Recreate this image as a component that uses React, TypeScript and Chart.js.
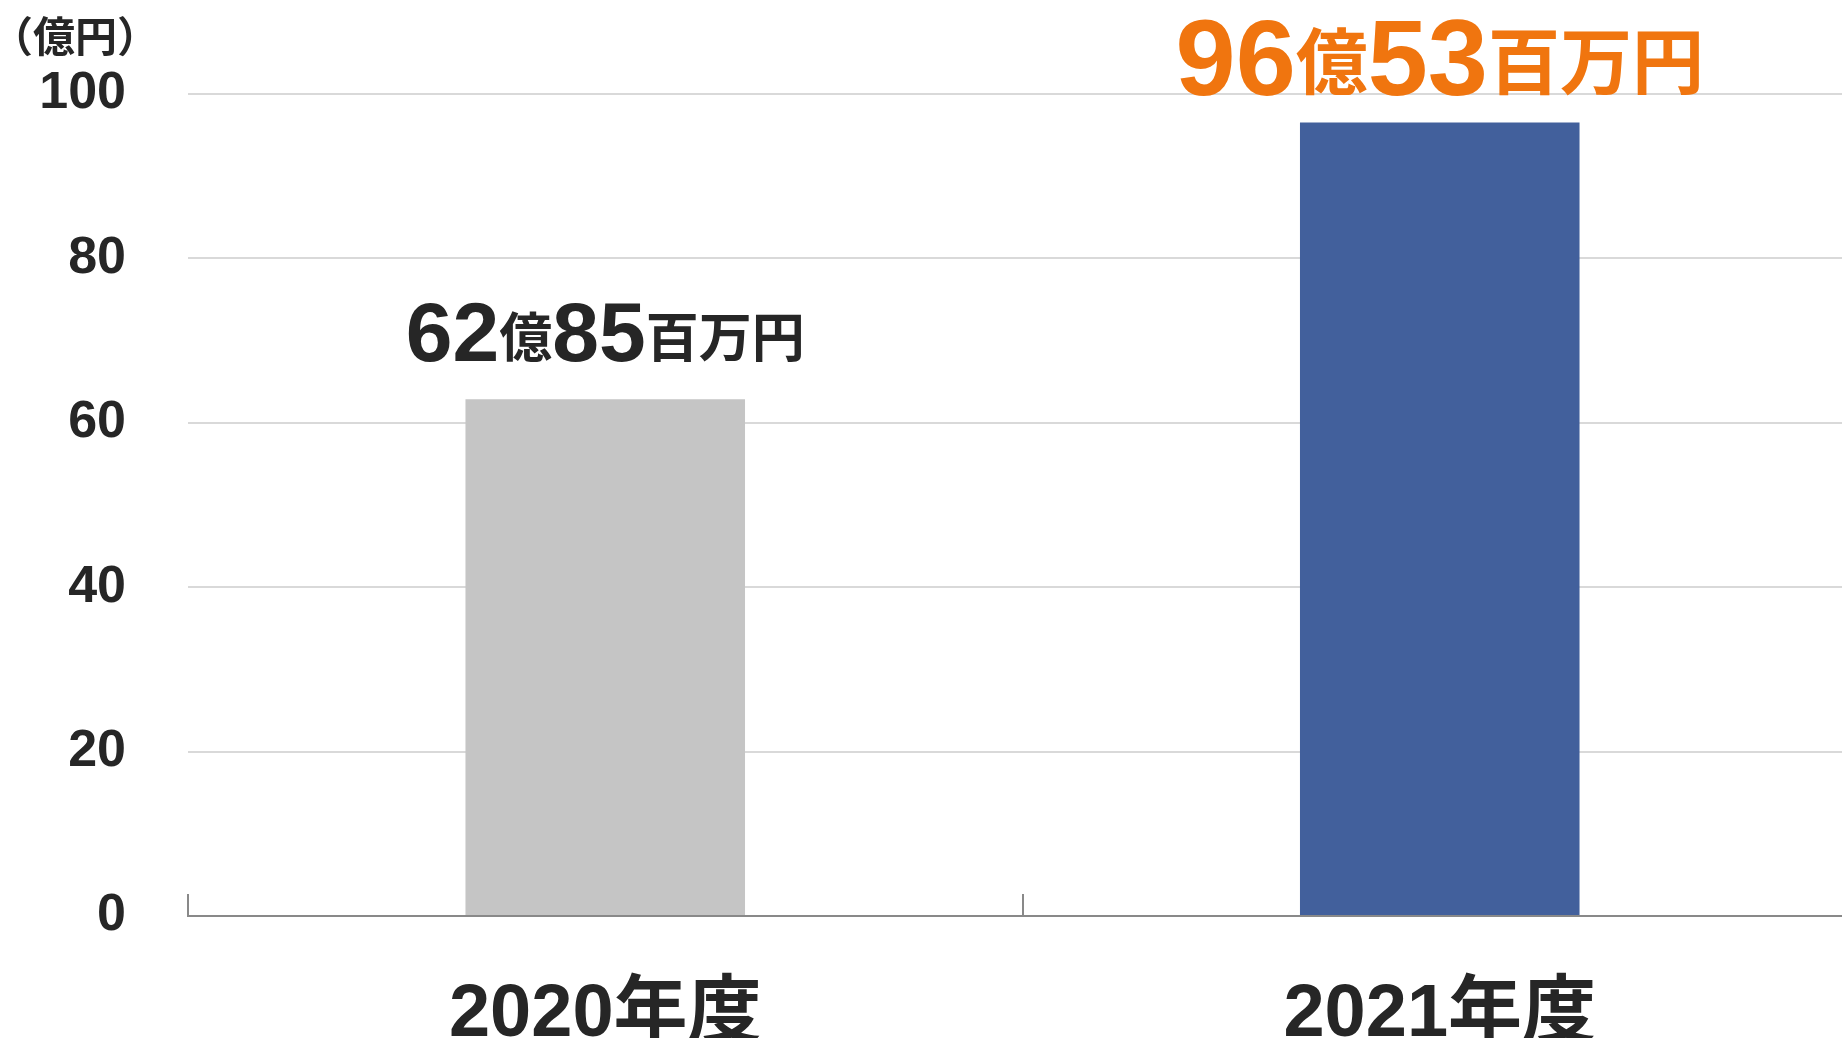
import React, { useEffect, useRef } from "react";
import { Chart, registerables } from "chart.js";

Chart.register(...registerables);

const categories: string[] = ["2020年度", "2021年度"];
const values: number[] = [62.85, 96.53];
const barColors: string[] = ["#c5c5c5", "#42609c"];
const yTicks: number[] = [0, 20, 40, 60, 80, 100];
const unitLabel = "（億円）";
const okuUnit = "億";
const hyakumanUnit = "百万円";

const labelStyles = [
  { digit: 84, kanji: 53, color: "#262626", gap: 37 },
  { digit: 108, kanji: 72, color: "#f0750f", gap: 27 },
];

const TEXT = "#262626";
const LATIN = '"Liberation Sans", Arial, "Noto Sans CJK JP", sans-serif';
const CJK = '"Noto Sans CJK JP", "Liberation Sans", sans-serif';

const W = 1857;
const H = 1038;

const overlay = {
  id: "overlay",
  afterDraw(chart: any) {
    const ctx = chart.ctx as CanvasRenderingContext2D;
    const xs = chart.scales.x;
    const area = chart.chartArea;
    ctx.save();
    // category boundary tick marks pointing up
    const n = categories.length;
    const half = (xs.getPixelForValue(1) - xs.getPixelForValue(0)) / 2;
    ctx.strokeStyle = "#898989";
    ctx.lineWidth = 2;
    for (let i = 0; i <= n; i++) {
      const px = xs.getPixelForValue(Math.min(i, n - 1)) + (i < n ? -half : half);
      ctx.beginPath();
      ctx.moveTo(Math.round(px), area.bottom);
      ctx.lineTo(Math.round(px), area.bottom - 22);
      ctx.stroke();
    }

    // unit label
    ctx.font = `bold 42px ${CJK}`;
    ctx.fillStyle = TEXT;
    ctx.textAlign = "left";
    ctx.textBaseline = "alphabetic";
    const um = ctx.measureText(unitLabel);
    ctx.fillText(unitLabel, 18 + um.actualBoundingBoxLeft, 15 + um.actualBoundingBoxAscent);

    // value labels
    const meta = chart.getDatasetMeta(0);
    meta.data.forEach((bar: any, i: number) => {
      const st = labelStyles[i];
      const [oku, man] = values[i].toFixed(2).split(".");
      const segs = [
        { t: oku, f: `bold ${st.digit}px ${LATIN}` },
        { t: okuUnit, f: `bold ${st.kanji}px ${CJK}` },
        { t: man, f: `bold ${st.digit}px ${LATIN}` },
        { t: hyakumanUnit, f: `bold ${st.kanji}px ${CJK}` },
      ];
      let total = 0;
      const ms = segs.map((s) => {
        ctx.font = s.f;
        const m = ctx.measureText(s.t);
        total += m.width;
        return m;
      });
      let x = bar.x - total / 2;
      const baseY = bar.y - st.gap;
      ctx.fillStyle = st.color;
      ctx.textAlign = "left";
      ctx.textBaseline = "alphabetic";
      segs.forEach((s, k) => {
        ctx.font = s.f;
        const d = Math.max(0, ms[k].actualBoundingBoxDescent);
        ctx.fillText(s.t, x, baseY - d);
        x += ms[k].width;
      });
    });
    ctx.restore();
  },
};

export default function App() {
  const ref = useRef<HTMLCanvasElement | null>(null);
  useEffect(() => {
    document.body.style.margin = "0";
    document.body.style.overflow = "hidden";
    const canvas = ref.current!;
    const chart = new Chart(canvas, {
      type: "bar",
      data: {
        labels: categories,
        datasets: [
          {
            data: values,
            backgroundColor: barColors,
            borderWidth: 0,
            categoryPercentage: 1,
            barPercentage: 0.335,
          },
        ],
      },
      options: {
        animation: false,
        responsive: false,
        maintainAspectRatio: false,
        layout: { padding: { top: 94, left: 0, right: 0, bottom: 0 } },
        plugins: {
          legend: { display: false },
          tooltip: { enabled: false },
          title: { display: false },
        },
        scales: {
          x: {
            grid: { display: false },
            border: { display: true, color: "#898989", width: 2 },
            ticks: {
              color: TEXT,
              padding: 55,
              font: { family: LATIN, size: 74, weight: "bold", lineHeight: 1 },
              maxRotation: 0,
              autoSkip: false,
            },
            afterFit: (s: any) => {
              s.height = 122;
            },
          },
          y: {
            min: 0,
            max: 100,
            afterBuildTicks: (s: any) => {
              s.ticks = yTicks.map((v) => ({ value: v }));
            },
            grid: { color: "#d9d9d9", lineWidth: 2, drawTicks: false },
            border: { display: false },
            ticks: {
              color: TEXT,
              padding: 62,
              font: { family: LATIN, size: 52, weight: "bold", lineHeight: 1 },
            },
            afterFit: (s: any) => {
              s.width = 188;
            },
          },
        },
      },
      plugins: [overlay],
    });
    return () => chart.destroy();
  }, []);
  return (
    <div style={{ position: "fixed", left: 0, top: 0, width: 1842, height: H, overflow: "hidden", background: "#fff" }}>
      <canvas ref={ref} width={W} height={H} style={{ width: W, height: H, display: "block" }} />
    </div>
  );
}
